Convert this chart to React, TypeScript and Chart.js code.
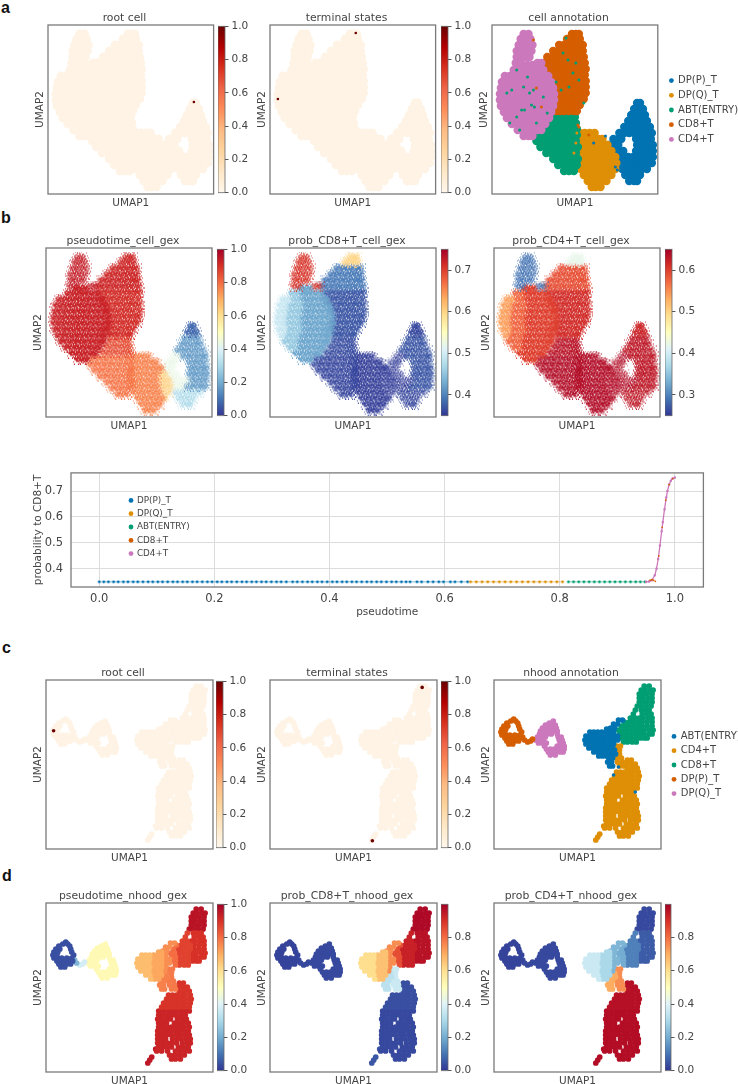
import React, { useEffect, useRef } from "react";
import { Chart, registerables } from "chart.js";

Chart.register(...registerables);

type Rows = [number, number[]][];

// ---------- cell-level UMAP embedding: rows of [UMAP2, UMAP1 values], one list per region
const lobeRows: Rows = [[9,[32,37]],[14,[29,34,39]],[20,[27,31,36,41]],[26,[25,30,35,40]],[32,[25,29,34,38]],[38,[24,29,46,50]]];
const cd4LeftRows: Rows = [[51,[13,18]],[57,[10,15]],[63,[9,14]],[69,[8,13]],[75,[8,13]],[81,[9,14]],[87,[12]]];
const cd4MidRows: Rows = [[45,[22,27]],[51,[23,28]],[57,[20,25,30]],[63,[19,24,29]],[69,[18,23,28]],[75,[18,23,28]],[81,[19,24,29]],[87,[17,22,27]],[93,[15,20,25]],[99,[20,25]]];
const cd4CoreRows: Rows = [[40,[31,36,41]],[45,[32,37,42,47,52]],[51,[33,38,43,48,53,57]],[57,[35,40,45,50,55,60]],[63,[34,39,44,49,54,59,62]],[69,[33,38,43,48,53,58,63]],[75,[33,38,43,48,53,58,63]],[81,[34,39,44,49,54,58,62]],[87,[32,37,42,47,52,57,60]],[93,[30,35,40,45,50,55,58]],[99,[30,35,40,45,50,54]],[105,[26,31,36,41,46,50]],[111,[32,37,41]]];
const cd8TipRows: Rows = [[9,[81,85,88]],[14,[76,80,85,89]]];
const cd8TopRows: Rows = [[20,[68,73,78,83,88,92]],[26,[62,67,72,77,82,87,92]],[32,[56,61,66,71,76,81,86,90,93]],[38,[53,58,63,68,73,78,83,88,94]]];
const cd8CoreRows: Rows = [[44,[56,61,66,71,76,81,86,91,95]],[50,[58,63,68,73,78,83,88,94]],[56,[60,65,70,75,80,85,90,95]],[62,[64,69,74,79,84,89,95]],[68,[66,71,76,81,86,91,95]],[74,[64,69,74,79,84,89,93]],[80,[64,69,74,79,84,89]],[86,[65,69,73,78,83,86]]];
const abtUpperRows: Rows = [[92,[65,70,75,80,84]],[98,[61,66,71,76,81,85]],[104,[57,62,67,72,77,82,86]]];
const abtLowerRows: Rows = [[110,[47,52,57,62,67,72,77,82,86]],[116,[45,50,55,60,65,70,75,80,85]],[122,[49,54,59,64,69,74,79,84,87]],[128,[55,60,65,70,75,80,85]],[134,[62,67,72,77,82,87]],[140,[67,72,77,82,86]],[146,[73,78,83]]];
const dpqCoreRows: Rows = [[108,[89,94,99,104]],[114,[88,93,98,103,108,112]],[120,[88,93,98,103,108,113,117]],[126,[87,92,97,102,107,112]],[132,[87,92,97,102,107,112]],[138,[88,93,98,103,108,113]],[144,[90,95,100,105,110,115]],[150,[93,98,103,108,113,118]],[156,[97,102,107,112,116]],[162,[101,105,110]]];
const dpqRightRows: Rows = [[126,[117,121]],[132,[117,121,125]],[138,[118,122,126]],[144,[120,125]],[150,[121]]];
const dppLeftRows: Rows = [[108,[129,134]],[114,[123,128,131]],[120,[118,123,128]],[126,[123,128,133]],[132,[128,133,138,143]],[138,[130,135,139]]];
const dppTipRows: Rows = [[78,[147,150]],[84,[144,149,153]]];
const dppCoreRows: Rows = [[90,[141,146,151,155]],[96,[138,143,148,153,157]],[102,[134,139,144,149,154,160]],[108,[139,144,149,154,159,162]],[114,[146,151,156,161]],[120,[147,151,155,160,163]],[126,[146,150,154,159,163]],[132,[148,153,158,163]],[138,[143,148,153,158,162]]];
const dppBottomRows: Rows = [[144,[132,137,142,147,152,157]],[150,[135,140,145,150]],[156,[139,144,147]]];

const cellRegions: Rows[] = [lobeRows, cd4LeftRows, cd4MidRows, cd4CoreRows, cd8TipRows, cd8TopRows, cd8CoreRows, abtUpperRows, abtLowerRows, dpqCoreRows, dpqRightRows, dppLeftRows, dppTipRows, dppCoreRows, dppBottomRows];
const cellPseudotime = [0.94, 0.93, 0.93, 0.93, 0.92, 0.92, 0.91, 0.85, 0.79, 0.77, 0.63, 0.43, 0.08, 0.17, 0.3];
const cellProbCD8 = [0.71, 0.49, 0.455, 0.425, 0.6, 0.395, 0.37, 0.365, 0.36, 0.355, 0.355, 0.355, 0.36, 0.37, 0.36];
const cellProbCD4 = [0.29, 0.54, 0.575, 0.6, 0.42, 0.59, 0.615, 0.635, 0.64, 0.64, 0.64, 0.64, 0.62, 0.63, 0.63];
const cellCluster = [4, 4, 4, 4, 3, 3, 3, 2, 2, 1, 1, 0, 0, 0, 0];
const cellDensity = [0.62, 0.85, 0.9, 0.95, 0.7, 0.85, 0.85, 0.75, 0.75, 0.78, 0.6, 0.5, 0.85, 0.75, 0.6];

const cellClusterNames = ["DP(P)_T", "DP(Q)_T", "ABT(ENTRY)", "CD8+T", "CD4+T"];
const colorblind = ["#0173b2", "#de8f05", "#029e73", "#d55e00", "#cc78bc"];

// stray cells of one annotation lying within another region
const strayABT: [number, number][] = [[20,65],[38,68],[42,65],[40,80],[30,85],[25,92],[33,85],[43,82],[18,98],[45,98],[28,105],[25,45],[77,35],[85,38],[82,48],[72,28],[65,57],[75,13],[88,55],[78,62],[70,65],[93,78],[52,72],[15,68],[32,62],[56,88],[36,52]];
const strayDPP: [number, number][] = [[103,118],[125,142],[127,145],[115,111],[122,115]];
const strayCD8: [number, number][] = [[42,15],[45,63],[88,102],[87,100],[98,110],[50,82]];
const strayDPQ: [number, number][] = [[85,118],[83,128],[86,108]];

const cellRootCell: [number, number][] = [[148, 77]];
const cellTerminal: [number, number][] = [[87, 8], [8, 74]];

// ---------- neighbourhood-level UMAP embedding
const ringPRows: Rows = [[39,[20]],[41,[17,22]],[43,[13,24]],[46,[10,14,25]],[49,[8,12,26]],[52,[7,11,28]],[55,[8,12,16,21,26]],[58,[11,15,19,23,27]],[61,[13,17,21,25]],[64,[15,19]]];
const tailARows: Rows = [[57,[29]],[60,[31]]];
const tailBRows: Rows = [[62,[34]],[61,[37]],[59,[39]]];
const ringQRows: Rows = [[41,[60]],[43,[56]],[45,[52,57,62]],[48,[49,54,59,63]],[51,[47,51,56,61,64]],[54,[46,50,54,58,64]],[57,[44,48,52,65,68]],[60,[42,46,50,66,69]],[63,[45,49,53,67,70]],[66,[51,64,68,71]],[69,[53,57,61,65,69,71]],[72,[55,59,63,67,70]],[75,[57,62]]];
const nhLeftRows: Rows = [[52,[97,101,105]],[56,[93,97,101,105]],[60,[92,96,100,104]],[64,[93,97,101,105]],[68,[96,100,104]],[72,[101,105]],[76,[106]]];
const nhMidRows: Rows = [[49,[114,117]],[52,[109,113,117]],[56,[109,114,117]],[60,[108,112,117]],[64,[109,113,117]],[68,[108,112,116]],[72,[109,113,117]],[76,[110,114]]];
const nhRightRows: Rows = [[40,[126,130]],[44,[121,125]],[48,[118,122]],[52,[121]],[56,[121,125]],[60,[121,125]],[64,[121]],[68,[120]]];
const stemARows: Rows = [[70,[122]],[74,[119,123]],[78,[116,120]],[82,[115,119]],[86,[117,120]]];
const stemBRows: Rows = [[66,[124,128]],[70,[127]],[74,[127]],[78,[124,129]],[82,[125,130]],[86,[127,131]]];
const greenLeftRows: Rows = [[42,[132]],[46,[129]],[50,[126,130]],[54,[127,131]],[58,[127,131]],[62,[131]]];
const greenMidRows: Rows = [[30,[143]],[34,[141]],[38,[138,143]],[42,[137,141,146]],[46,[133,137,142,146]],[50,[135,139,144]],[54,[135,140,144]],[58,[135,139,144]],[62,[135,140,144]]];
const greenRightRows: Rows = [[30,[149,153,157]],[34,[150,155,159]],[38,[147,151,156,160]],[42,[150,155,160]],[46,[150,155,160]],[50,[148,152,157,161]],[54,[148,152,157,160]],[58,[148,152,155]]];
const greenTopRows: Rows = [[6,[152,157]],[10,[149,153,158,161]],[14,[147,151,155,160]],[18,[147,151,156,160]],[22,[147,151,155,160]],[26,[145,149,154,159]]];
const mainUpperRows: Rows = [[80,[135,139]],[84,[134,139,143]],[88,[135,140,145]],[92,[124,128,132,137,141,146]],[96,[122,126,131,135,140,145,147]],[100,[119,123,128,132,137,141,146]],[104,[117,122,126,131,135,140,145]]];
const mainLowerRows: Rows = [[108,[114,119,124,128,132,137,141,145]],[112,[114,118,123,127,131,136,141]],[116,[113,117,122,126,133,138,142]],[120,[114,118,122,130,134,139,144]],[124,[114,118,123,127,131,136,140,145]],[128,[113,118,122,126,131,135,140,144]],[132,[113,117,122,127,132,136,141,145]],[136,[113,117,121,128,133,137,142,146]],[140,[113,118,123,127,132,138,143,146]],[144,[114,118,122,127,134,139,144]],[148,[112,117,123,131,136,141,145]],[152,[125,130,135,140]],[156,[127,131,136]]];
const nhTailRows: Rows = [[146,[111]],[154,[107]],[157,[105]],[160,[103]]];

const nhoodRegions: Rows[] = [ringPRows, tailARows, tailBRows, ringQRows, nhLeftRows, nhMidRows, nhRightRows, stemARows, stemBRows, greenLeftRows, greenMidRows, greenRightRows, greenTopRows, mainUpperRows, mainLowerRows, nhTailRows];
const nhoodPseudotime = [0.04, 0.22, 0.38, 0.52, 0.67, 0.71, 0.75, 0.77, 0.78, 0.8, 0.87, 0.9, 0.96, 0.895, 0.925, 0.95];
const nhoodProbCD8 = [0.02, 0.03, 0.03, 0.03, 0.6, 0.66, 0.75, 0.33, 0.36, 0.85, 0.93, 0.96, 0.98, 0.04, 0.03, 0.05];
const nhoodProbCD4 = [0.02, 0.03, 0.03, 0.03, 0.36, 0.3, 0.22, 0.7, 0.75, 0.2, 0.12, 0.06, 0.03, 0.965, 0.97, 0.97];
const nhoodCluster = [3, 3, 3, 4, 0, 0, 0, 0, 1, 2, 2, 2, 2, 1, 1, 1];
const nhoodClusterNames = ["ABT(ENTRY)", "CD4+T", "CD8+T", "DP(P)_T", "DP(Q)_T"];
const nhoodStrayABT: [number, number][] = [[126, 87], [121, 95], [143, 112]];
const nhoodRootCell: [number, number][] = [[7.7, 50.7]];
const nhoodTerminal: [number, number][] = [[154, 7.4], [103.6, 160.7]];

// ---------- pseudotime vs probability panel
const lineDPP = [0,0.008,0.016,0.025,0.033,0.042,0.05,0.059,0.067,0.076,0.085,0.093,0.102,0.11,0.119,0.128,0.136,0.145,0.153,0.162,0.17,0.179,0.188,0.196,0.205,0.213,0.222,0.23,0.239,0.248,0.256,0.265,0.273,0.282,0.29,0.299,0.308,0.316,0.325,0.336,0.344,0.353,0.362,0.37,0.379,0.387,0.396,0.405,0.413,0.422,0.43,0.439,0.447,0.456,0.465,0.473,0.482,0.49,0.499,0.508,0.516,0.525,0.533,0.54,0.552,0.56,0.571,0.58,0.59,0.598,0.61,0.618,0.629,0.64];
const lineDPQ = [0.645,0.655,0.665,0.675,0.685,0.695,0.705,0.715,0.725,0.735,0.745,0.755,0.765,0.775,0.785,0.795,0.805];
const lineABT = [0.815,0.824,0.833,0.842,0.851,0.86,0.869,0.878,0.887,0.896,0.905,0.914,0.923,0.932,0.94,0.948];
const lineProbY = 0.35;
const curveX = [0.95,0.955,0.96,0.965,0.968,0.971,0.974,0.977,0.979,0.982,0.985,0.987,0.99,0.993,0.996,1];
const curveY = [0.35,0.351,0.356,0.375,0.4,0.438,0.49,0.545,0.58,0.63,0.675,0.7,0.725,0.74,0.748,0.752];
const lineCD8X = [0.957,0.96,0.963,0.966,0.972,0.978,0.984,0.99,0.996];
const lineCD8Y = [0.356,0.358,0.356,0.352,0.45,0.56,0.665,0.725,0.748];
const lineXTicks = [0, 0.2, 0.4, 0.6, 0.8, 1];
const lineYTicks = [0.4, 0.5, 0.6, 0.7];

// ---------- colour maps
const RdYlBu_r = ["#313695","#4575b4","#74add1","#abd9e9","#e0f3f8","#ffffbf","#fee090","#fdae61","#f46d43","#d73027","#a50026"];
const OrRd = ["#fff7ec","#fee8c8","#fdd49e","#fdbb84","#fc8d59","#ef6548","#d7301f","#b30000","#6b0000"];
const PALE = "#fef3e4";
const ROOT = "#6b0000";

function hex(c: string) { return [1, 3, 5].map((i) => parseInt(c.slice(i, i + 2), 16)); }
function cmap(stops: string[], t: number) {
  const p = Math.max(0, Math.min(0.9999, t)) * (stops.length - 1);
  const i = Math.floor(p); const f = p - i;
  const a = hex(stops[i]); const b = hex(stops[i + 1]);
  return `rgb(${a.map((v, k) => Math.round(v + (b[k] - v) * f)).join(",")})`;
}

// speckle stamps standing in for a dense cloud of tiny cells
const SPECKS: [number, number][][] = [
  [[1,2],[3,0],[5,1],[8,2],[10,3],[0,5],[2,4],[4,3],[6,4],[9,5],[1,7],[3,6],[5,6],[7,7],[10,7],[2,9],[4,8],[6,9],[8,9],[9,10],[3,10],[7,2]],
  [[0,1],[2,1],[4,0],[6,2],[9,1],[10,4],[1,4],[3,3],[5,4],[8,4],[0,7],[2,6],[4,6],[7,5],[9,7],[1,9],[3,8],[5,8],[7,9],[10,9],[4,10],[8,7]],
  [[2,0],[5,0],[7,1],[10,1],[1,3],[3,2],[6,3],[8,3],[0,4],[4,5],[7,4],[10,5],[2,5],[5,7],[8,6],[1,8],[3,7],[6,6],[9,8],[2,10],[6,10],[8,10]],
];
const HOLES: [number, number][][] = [
  [[4,4],[7,6],[5,8],[6,3]],
  [[6,4],[3,6],[7,7],[4,3]],
  [[4,3],[6,6],[3,7],[7,4]],
];
const stampCache = new Map<string, HTMLCanvasElement>();
function stamp(color: string, k: number, density: number) {
  const key = `${color}|${k}|${density}`;
  let c = stampCache.get(key);
  if (!c) {
    c = document.createElement("canvas"); c.width = 11; c.height = 11;
    const g = c.getContext("2d")!;
    g.fillStyle = color;
    g.globalAlpha = density;
    g.beginPath(); g.arc(5.5, 5.5, 3.1, 0, Math.PI * 2); g.fill();
    g.globalAlpha = Math.min(1, density + 0.15);
    SPECKS[k].forEach(([x, y]) => g.fillRect(x, y, 1, 1));
    g.globalCompositeOperation = "destination-out";
    g.globalAlpha = 1;
    HOLES[k].forEach(([x, y]) => g.fillRect(x, y, 1, 1));
    stampCache.set(key, c);
  }
  return c;
}

const TEXT = "#444444";
const EDGE = "#7a7a7a";
const FAMILY = "'DejaVu Sans', sans-serif";
const pts = (rows: Rows) => rows.flatMap(([y, xs]) => xs.map((x) => ({ x, y })));
const pairs = (p: [number, number][]) => p.map(([x, y]) => ({ x, y }));

const framePlugin = (color = EDGE, w = 1.3) => ({
  id: "frame",
  afterDraw(chart: any) {
    const { left, top, width, height } = chart.chartArea;
    const c = chart.ctx; c.save(); c.strokeStyle = color; c.lineWidth = w;
    c.strokeRect(left, top, width, height); c.restore();
  },
});

type Item = { left: number; top: number; width: number; height: number; config: any };

const H = 169;

function umapPanel(L: number, T: number, W: number, title: string, datasets: any[]): Item {
  return {
    left: L - 15, top: T - 15, width: W + 17, height: H + 31,
    config: {
      type: "scatter",
      data: { datasets },
      plugins: [framePlugin()],
      options: {
        responsive: false, animation: false,
        layout: { padding: { right: 2 } },
        plugins: {
          legend: { display: false }, tooltip: { enabled: false },
          title: { display: true, text: title, color: TEXT, font: { family: FAMILY, size: 10.8, weight: "normal", lineHeight: "14px" }, padding: { top: 1, bottom: 0 } },
        },
        scales: {
          x: { type: "linear", min: 0, max: W, grid: { display: false }, border: { display: false }, ticks: { display: false },
            title: { display: true, text: "UMAP1", color: TEXT, padding: 0, font: { family: FAMILY, size: 10.5 } },
            afterFit: (s: any) => { s.height = 16; } },
          y: { type: "linear", min: 0, max: H, reverse: true, grid: { display: false }, border: { display: false }, ticks: { display: false },
            title: { display: true, text: "UMAP2", color: TEXT, padding: { top: 1, bottom: 0 }, font: { family: FAMILY, size: 10.5 } },
            afterFit: (s: any) => { s.width = 15; } },
        },
      },
    },
  };
}

function colorbar(L: number, R: number, T: number, stops: string[], min: number, max: number, ticks: number[]): Item {
  const barW = R - L;
  return {
    left: L, top: T - 8, width: barW + 36, height: H + 16,
    config: {
      type: "bar",
      data: { labels: [""], datasets: [{
        data: [[min, max]], barPercentage: 1, categoryPercentage: 1, borderWidth: 0, borderSkipped: false,
        backgroundColor: (ctx: any) => {
          const a = ctx.chart.chartArea; if (!a) return stops[0];
          const g = ctx.chart.ctx.createLinearGradient(0, a.bottom, 0, a.top);
          stops.forEach((s, i) => g.addColorStop(i / (stops.length - 1), s));
          return g;
        },
      }] },
      plugins: [framePlugin("#666666", 0.8)],
      options: {
        responsive: false, animation: false,
        layout: { padding: { top: 8, bottom: 8 } },
        plugins: { legend: { display: false }, tooltip: { enabled: false } },
        scales: {
          x: { display: false },
          y: { position: "right", min, max, border: { display: false },
            grid: { drawOnChartArea: false, drawTicks: true, tickLength: 3.5, tickWidth: 1, color: "#555" },
            afterBuildTicks: (s: any) => { s.ticks = ticks.map((value) => ({ value })); },
            afterFit: (s: any) => { s.width = 36; },
            ticks: { padding: 3, color: TEXT, font: { family: FAMILY, size: 10.5 }, callback: (v: number) => v.toFixed(1) } },
        },
      },
    },
  };
}

function legendOnly(left: number, centerY: number, names: string[], colors: string[], size: number, gap: number, boxW: number, boxH: number): Item {
  const height = 100;
  return {
    left, top: Math.round(centerY - height / 2), width: 200, height,
    config: {
      type: "scatter",
      data: { datasets: names.map((label, i) => ({ label, data: [], backgroundColor: colors[i], borderWidth: 0 })) },
      options: {
        responsive: false, animation: false,
        plugins: {
          tooltip: { enabled: false },
          legend: { position: "left", align: "center", labels: { usePointStyle: true, pointStyle: "circle", boxWidth: boxW, boxHeight: boxH, padding: gap, color: TEXT, font: { family: FAMILY, size } } },
        },
        scales: { x: { display: false }, y: { display: false } },
      },
    },
  };
}

// Chart.js paints the first dataset on top, so marks come first in each list.
const paleDatasets = (regions: Rows[], r: number, marks: [number, number][], markR: number) => [
  { data: pairs(marks), pointRadius: markR, backgroundColor: ROOT, borderWidth: 0 },
  { data: regions.flatMap((rows) => pts(rows)), pointRadius: r, backgroundColor: PALE, borderWidth: 0 },
];

const speckled = (values: number[], min: number, max: number) =>
  cellRegions.map((rows, i) => {
    const color = cmap(RdYlBu_r, (values[i] - min) / (max - min));
    return {
      data: pts(rows), pointRadius: 5, borderWidth: 0, backgroundColor: color,
      pointStyle: (ctx: any) => stamp(color, ctx.dataIndex % 3, cellDensity[i]),
    };
  });

const solid = (regions: Rows[], values: number[], min: number, max: number, r: number) =>
  regions.map((rows, i) => ({
    data: pts(rows), pointRadius: r, borderWidth: 0, backgroundColor: cmap(RdYlBu_r, (values[i] - min) / (max - min)),
  }));

const annotated = (regions: Rows[], cluster: number[], colors: string[], r: number, strays: { p: [number, number][]; c: string }[], sr: number) => [
  ...strays.map((s) => ({ data: pairs(s.p), pointRadius: sr, borderWidth: 0, backgroundColor: s.c })),
  ...regions.map((rows, i) => ({ data: pts(rows), pointRadius: r, borderWidth: 0, backgroundColor: colors[cluster[i]] })),
];

function lineChart(): Item {
  const L = 71, T = 464, R = 706, B = 587;
  const left = 30, top = T - 6;
  const baseline = (xs: number[]) => xs.map((x) => ({ x, y: lineProbY }));
  const dot = (data: any[], color: string, extra: any = {}) => ({ data, pointRadius: 1.1, borderWidth: 0, backgroundColor: color, borderColor: color, ...extra });
  const baseExtra = (color: string) => ({ showLine: true, borderColor: color + "55", borderWidth: 1.6 });
  return {
    left, top, width: R + 3 - left, height: B + 33 - top,
    config: {
      type: "scatter",
      data: { datasets: [
        dot(lineCD8X.map((x, i) => ({ x, y: lineCD8Y[i] })), colorblind[3], { pointRadius: 0.9 }),
        dot(curveX.map((x, i) => ({ x, y: curveY[i] })), colorblind[4], { showLine: true, borderWidth: 1.3, pointRadius: 0.6 }),
        dot(baseline(lineABT), colorblind[2], baseExtra(colorblind[2])),
        dot(baseline(lineDPQ), colorblind[1], baseExtra(colorblind[1])),
        dot(baseline(lineDPP), colorblind[0], baseExtra(colorblind[0])),
      ] },
      plugins: [framePlugin()],
      options: {
        responsive: false, animation: false,
        layout: { padding: { top: 6, right: 3 } },
        plugins: { legend: { display: false }, tooltip: { enabled: false } },
        scales: {
          x: { type: "linear", min: -0.049, max: 1.0495, border: { display: false },
            grid: { color: "#dcdcdc", drawTicks: false },
            afterBuildTicks: (s: any) => { s.ticks = lineXTicks.map((value) => ({ value })); },
            ticks: { padding: 5, color: TEXT, maxRotation: 0, font: { family: FAMILY, size: 11.5 }, callback: (v: number) => v.toFixed(1) },
            title: { display: true, text: "pseudotime", color: TEXT, padding: { top: 0, bottom: 1 }, font: { family: FAMILY, size: 10.5 } },
            afterFit: (s: any) => { s.height = 33; } },
          y: { type: "linear", min: 0.33, max: 0.77, border: { display: false },
            grid: { color: "#dcdcdc", drawTicks: false },
            afterBuildTicks: (s: any) => { s.ticks = lineYTicks.map((value) => ({ value })); },
            ticks: { padding: 8, color: TEXT, font: { family: FAMILY, size: 11.5 }, callback: (v: number) => v.toFixed(1) },
            title: { display: true, text: "probability to CD8+T", color: TEXT, padding: { top: 2, bottom: 0 }, font: { family: FAMILY, size: 10.5 } },
            afterFit: (s: any) => { s.width = L - left; } },
        },
      },
    },
  };
}

const tick5 = [0, 0.2, 0.4, 0.6, 0.8, 1];
const tick4 = [0, 0.2, 0.4, 0.6, 0.8];

function buildItems(): Item[] {
  const aT = 25, bT = 248, cT = 680, dT = 903;
  const cellStrays = [
    { p: strayABT, c: colorblind[2] }, { p: strayDPP, c: colorblind[0] },
    { p: strayCD8, c: colorblind[3] }, { p: strayDPQ, c: colorblind[1] },
  ];
  const NR = 2.85;
  return [
    umapPanel(48, aT, 168, "root cell", paleDatasets(cellRegions, 4.4, cellRootCell, 1.3)),
    colorbar(218, 225, aT, OrRd, 0, 1, tick5),
    umapPanel(270, aT, 168, "terminal states", paleDatasets(cellRegions, 4.4, cellTerminal, 1.3)),
    colorbar(441, 448, aT, OrRd, 0, 1, tick5),
    umapPanel(492, aT, 168, "cell annotation", annotated(cellRegions, cellCluster, colorblind, 4.2, cellStrays, 1.5)),
    legendOnly(665, 110, cellClusterNames, colorblind, 10, 4.7, 3.4, 3.4),

    umapPanel(46, bT, 169, "pseudotime_cell_gex", speckled(cellPseudotime, 0, 1)),
    colorbar(217, 224, bT, RdYlBu_r, 0, 1, tick5),
    umapPanel(270, bT, 169, "prob_CD8+T_cell_gex", speckled(cellProbCD8, 0.35, 0.75)),
    colorbar(441, 448, bT, RdYlBu_r, 0.35, 0.75, [0.4, 0.5, 0.6, 0.7]),
    umapPanel(494, bT, 169, "prob_CD4+T_cell_gex", speckled(cellProbCD4, 0.25, 0.65)),
    colorbar(665, 672, bT, RdYlBu_r, 0.25, 0.65, [0.3, 0.4, 0.5, 0.6]),

    lineChart(),
    legendOnly(125, 527, cellClusterNames, colorblind, 8.8, 4.5, 3, 3.4),

    umapPanel(46, cT, 169, "root cell", paleDatasets(nhoodRegions, NR, nhoodRootCell, 1.8)),
    colorbar(216, 223, cT, OrRd, 0, 1, tick5),
    umapPanel(270, cT, 169, "terminal states", paleDatasets(nhoodRegions, NR, nhoodTerminal, 1.8)),
    colorbar(441, 448, cT, OrRd, 0, 1, tick5),
    umapPanel(494, cT, 169, "nhood annotation", annotated(nhoodRegions, nhoodCluster, colorblind, NR, [{ p: nhoodStrayABT, c: colorblind[0] }], 1.8)),
    legendOnly(668, 765, nhoodClusterNames, colorblind, 10, 4.3, 3.4, 3.4),

    umapPanel(46, dT, 169, "pseudotime_nhood_gex", solid(nhoodRegions, nhoodPseudotime, 0, 1, NR)),
    colorbar(217, 224, dT, RdYlBu_r, 0, 1, tick5),
    umapPanel(270, dT, 169, "prob_CD8+T_nhood_gex", solid(nhoodRegions, nhoodProbCD8, 0, 0.998, NR)),
    colorbar(441, 448, dT, RdYlBu_r, 0, 0.998, tick4),
    umapPanel(494, dT, 169, "prob_CD4+T_nhood_gex", solid(nhoodRegions, nhoodProbCD4, 0, 0.998, NR)),
    colorbar(665, 671, dT, RdYlBu_r, 0, 0.998, tick4),
  ];
}

const panelLetters: [string, number, number][] = [["a", 1, -1], ["b", 1, 209], ["c", 2, 639], ["d", 2, 867]];

export default function App() {
  const items = useRef<Item[]>(buildItems());
  const host = useRef<HTMLDivElement>(null);
  useEffect(() => {
    const canvases = Array.from(host.current!.querySelectorAll("canvas"));
    const charts = canvases.map((c, i) => new Chart(c, items.current[i].config));
    return () => charts.forEach((c) => c.destroy());
  }, []);
  return (
    <div ref={host} style={{ position: "absolute", left: 0, top: 0, width: 738, height: 1084, overflow: "hidden", background: "#fff" }}>
      {panelLetters.map(([t, x, y]) => (
        <div key={t} style={{ position: "absolute", left: x, top: y, font: "bold 16px/18px 'Liberation Sans', sans-serif", color: "#111" }}>{t}</div>
      ))}
      {items.current.map((it, i) => (
        <canvas key={i} width={it.width} height={it.height} style={{ position: "absolute", left: it.left, top: it.top, width: it.width, height: it.height, filter: "blur(0.35px)" }} />
      ))}
    </div>
  );
}
